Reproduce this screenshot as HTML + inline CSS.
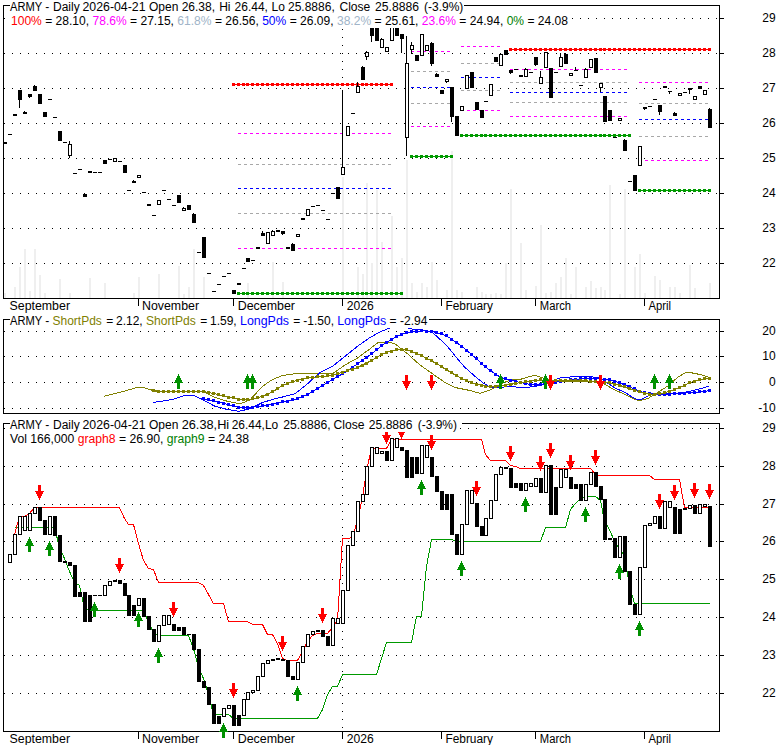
<!DOCTYPE html><html><head><meta charset="utf-8"><title>chart</title><style>html,body{margin:0;padding:0;background:#fff}svg{display:block}</style></head><body><svg width="780" height="745" viewBox="0 0 780 745" shape-rendering="crispEdges" font-family="Liberation Sans, sans-serif" font-size="12px">
<rect x="0" y="0" width="780" height="745" fill="#fff"/>
<line x1="12" y1="263.5" x2="720" y2="263.5" stroke="#000" stroke-width="1" stroke-dasharray="1 7"/>
<line x1="12" y1="228.5" x2="720" y2="228.5" stroke="#000" stroke-width="1" stroke-dasharray="1 7"/>
<line x1="12" y1="193.5" x2="720" y2="193.5" stroke="#000" stroke-width="1" stroke-dasharray="1 7"/>
<line x1="12" y1="158.5" x2="720" y2="158.5" stroke="#000" stroke-width="1" stroke-dasharray="1 7"/>
<line x1="12" y1="123.5" x2="720" y2="123.5" stroke="#000" stroke-width="1" stroke-dasharray="1 7"/>
<line x1="12" y1="88.5" x2="720" y2="88.5" stroke="#000" stroke-width="1" stroke-dasharray="1 7"/>
<line x1="12" y1="53.5" x2="720" y2="53.5" stroke="#000" stroke-width="1" stroke-dasharray="1 7"/>
<line x1="12" y1="18.5" x2="720" y2="18.5" stroke="#000" stroke-width="1" stroke-dasharray="1 7"/>
<line x1="342.5" y1="29" x2="342.5" y2="298" stroke="#000" stroke-width="1" stroke-dasharray="1 7"/>
<rect x="4" y="293" width="2" height="5" fill="#efefef"/>
<rect x="14" y="287" width="2" height="11" fill="#efefef"/>
<rect x="19" y="267" width="2" height="31" fill="#efefef"/>
<rect x="24" y="249" width="2" height="49" fill="#efefef"/>
<rect x="29" y="291" width="2" height="7" fill="#efefef"/>
<rect x="34" y="249" width="2" height="49" fill="#efefef"/>
<rect x="39" y="275" width="2" height="23" fill="#efefef"/>
<rect x="44" y="293" width="2" height="5" fill="#efefef"/>
<rect x="59" y="279" width="2" height="19" fill="#efefef"/>
<rect x="69" y="293" width="2" height="5" fill="#efefef"/>
<rect x="89" y="278" width="2" height="20" fill="#efefef"/>
<rect x="104" y="283" width="2" height="15" fill="#efefef"/>
<rect x="133" y="293" width="2" height="5" fill="#efefef"/>
<rect x="138" y="277" width="2" height="21" fill="#efefef"/>
<rect x="158" y="274" width="2" height="24" fill="#efefef"/>
<rect x="178" y="266" width="2" height="32" fill="#efefef"/>
<rect x="183" y="294" width="2" height="4" fill="#efefef"/>
<rect x="188" y="287" width="2" height="11" fill="#efefef"/>
<rect x="193" y="249" width="2" height="49" fill="#efefef"/>
<rect x="203" y="277" width="2" height="21" fill="#efefef"/>
<rect x="247" y="283" width="2" height="15" fill="#efefef"/>
<rect x="272" y="262" width="2" height="36" fill="#efefef"/>
<rect x="282" y="282" width="2" height="16" fill="#efefef"/>
<rect x="342" y="177" width="2" height="121" fill="#efefef"/>
<rect x="357" y="267" width="2" height="31" fill="#efefef"/>
<rect x="362" y="274" width="2" height="24" fill="#efefef"/>
<rect x="366" y="183" width="2" height="115" fill="#efefef"/>
<rect x="371" y="263" width="2" height="35" fill="#efefef"/>
<rect x="376" y="190" width="2" height="108" fill="#efefef"/>
<rect x="381" y="242" width="2" height="56" fill="#efefef"/>
<rect x="391" y="216" width="2" height="82" fill="#efefef"/>
<rect x="396" y="267" width="2" height="31" fill="#efefef"/>
<rect x="401" y="258" width="2" height="40" fill="#efefef"/>
<rect x="406" y="160" width="2" height="138" fill="#efefef"/>
<rect x="411" y="283" width="2" height="15" fill="#efefef"/>
<rect x="416" y="292" width="2" height="6" fill="#efefef"/>
<rect x="421" y="283" width="2" height="15" fill="#efefef"/>
<rect x="426" y="287" width="2" height="11" fill="#efefef"/>
<rect x="431" y="262" width="2" height="36" fill="#efefef"/>
<rect x="436" y="280" width="2" height="18" fill="#efefef"/>
<rect x="446" y="290" width="2" height="8" fill="#efefef"/>
<rect x="451" y="151" width="2" height="147" fill="#efefef"/>
<rect x="456" y="290" width="2" height="8" fill="#efefef"/>
<rect x="461" y="292" width="2" height="6" fill="#efefef"/>
<rect x="476" y="287" width="2" height="11" fill="#efefef"/>
<rect x="481" y="292" width="2" height="6" fill="#efefef"/>
<rect x="485" y="294" width="2" height="4" fill="#efefef"/>
<rect x="490" y="294" width="2" height="4" fill="#efefef"/>
<rect x="495" y="293" width="2" height="5" fill="#efefef"/>
<rect x="500" y="294" width="2" height="4" fill="#efefef"/>
<rect x="505" y="263" width="2" height="35" fill="#efefef"/>
<rect x="510" y="189" width="2" height="109" fill="#efefef"/>
<rect x="520" y="243" width="2" height="55" fill="#efefef"/>
<rect x="525" y="290" width="2" height="8" fill="#efefef"/>
<rect x="535" y="286" width="2" height="12" fill="#efefef"/>
<rect x="540" y="225" width="2" height="73" fill="#efefef"/>
<rect x="545" y="293" width="2" height="5" fill="#efefef"/>
<rect x="550" y="292" width="2" height="6" fill="#efefef"/>
<rect x="555" y="283" width="2" height="15" fill="#efefef"/>
<rect x="560" y="277" width="2" height="21" fill="#efefef"/>
<rect x="565" y="258" width="2" height="40" fill="#efefef"/>
<rect x="570" y="294" width="2" height="4" fill="#efefef"/>
<rect x="575" y="267" width="2" height="31" fill="#efefef"/>
<rect x="585" y="287" width="2" height="11" fill="#efefef"/>
<rect x="590" y="281" width="2" height="17" fill="#efefef"/>
<rect x="595" y="288" width="2" height="10" fill="#efefef"/>
<rect x="600" y="287" width="2" height="11" fill="#efefef"/>
<rect x="604" y="290" width="2" height="8" fill="#efefef"/>
<rect x="609" y="185" width="2" height="113" fill="#efefef"/>
<rect x="619" y="294" width="2" height="4" fill="#efefef"/>
<rect x="624" y="189" width="2" height="109" fill="#efefef"/>
<rect x="634" y="267" width="2" height="31" fill="#efefef"/>
<rect x="639" y="254" width="2" height="44" fill="#efefef"/>
<rect x="644" y="293" width="2" height="5" fill="#efefef"/>
<rect x="654" y="276" width="2" height="22" fill="#efefef"/>
<rect x="659" y="280" width="2" height="18" fill="#efefef"/>
<rect x="669" y="287" width="2" height="11" fill="#efefef"/>
<rect x="674" y="287" width="2" height="11" fill="#efefef"/>
<rect x="679" y="293" width="2" height="5" fill="#efefef"/>
<rect x="689" y="265" width="2" height="33" fill="#efefef"/>
<rect x="694" y="288" width="2" height="10" fill="#efefef"/>
<rect x="709" y="283" width="2" height="15" fill="#efefef"/>
<rect x="232" y="84" width="161" height="1" fill="#ff0000"/>
<rect x="232" y="83" width="3" height="3" fill="#ff0000"/>
<rect x="237" y="83" width="3" height="3" fill="#ff0000"/>
<rect x="242" y="83" width="3" height="3" fill="#ff0000"/>
<rect x="246" y="83" width="3" height="3" fill="#ff0000"/>
<rect x="251" y="83" width="3" height="3" fill="#ff0000"/>
<rect x="256" y="83" width="3" height="3" fill="#ff0000"/>
<rect x="261" y="83" width="3" height="3" fill="#ff0000"/>
<rect x="266" y="83" width="3" height="3" fill="#ff0000"/>
<rect x="271" y="83" width="3" height="3" fill="#ff0000"/>
<rect x="276" y="83" width="3" height="3" fill="#ff0000"/>
<rect x="281" y="83" width="3" height="3" fill="#ff0000"/>
<rect x="286" y="83" width="3" height="3" fill="#ff0000"/>
<rect x="291" y="83" width="3" height="3" fill="#ff0000"/>
<rect x="296" y="83" width="3" height="3" fill="#ff0000"/>
<rect x="301" y="83" width="3" height="3" fill="#ff0000"/>
<rect x="306" y="83" width="3" height="3" fill="#ff0000"/>
<rect x="311" y="83" width="3" height="3" fill="#ff0000"/>
<rect x="316" y="83" width="3" height="3" fill="#ff0000"/>
<rect x="321" y="83" width="3" height="3" fill="#ff0000"/>
<rect x="326" y="83" width="3" height="3" fill="#ff0000"/>
<rect x="331" y="83" width="3" height="3" fill="#ff0000"/>
<rect x="336" y="83" width="3" height="3" fill="#ff0000"/>
<rect x="341" y="83" width="3" height="3" fill="#ff0000"/>
<rect x="346" y="83" width="3" height="3" fill="#ff0000"/>
<rect x="351" y="83" width="3" height="3" fill="#ff0000"/>
<rect x="356" y="83" width="3" height="3" fill="#ff0000"/>
<rect x="361" y="83" width="3" height="3" fill="#ff0000"/>
<rect x="365" y="83" width="3" height="3" fill="#ff0000"/>
<rect x="370" y="83" width="3" height="3" fill="#ff0000"/>
<rect x="375" y="83" width="3" height="3" fill="#ff0000"/>
<rect x="380" y="83" width="3" height="3" fill="#ff0000"/>
<rect x="385" y="83" width="3" height="3" fill="#ff0000"/>
<rect x="390" y="83" width="3" height="3" fill="#ff0000"/>
<line x1="238" y1="133.5" x2="392" y2="133.5" stroke="#ff00ff" stroke-width="1" stroke-dasharray="3 3"/>
<line x1="238" y1="164.5" x2="392" y2="164.5" stroke="#a8a8a8" stroke-width="1" stroke-dasharray="3 3"/>
<line x1="238" y1="188.5" x2="392" y2="188.5" stroke="#0000ff" stroke-width="1" stroke-dasharray="3 3"/>
<line x1="238" y1="213.5" x2="392" y2="213.5" stroke="#a8a8a8" stroke-width="1" stroke-dasharray="3 3"/>
<line x1="238" y1="248.5" x2="392" y2="248.5" stroke="#ff00ff" stroke-width="1" stroke-dasharray="3 3"/>
<rect x="237" y="293" width="166" height="1" fill="#009a00"/>
<rect x="237" y="292" width="3" height="3" fill="#009a00"/>
<rect x="242" y="292" width="3" height="3" fill="#009a00"/>
<rect x="246" y="292" width="3" height="3" fill="#009a00"/>
<rect x="251" y="292" width="3" height="3" fill="#009a00"/>
<rect x="256" y="292" width="3" height="3" fill="#009a00"/>
<rect x="261" y="292" width="3" height="3" fill="#009a00"/>
<rect x="266" y="292" width="3" height="3" fill="#009a00"/>
<rect x="271" y="292" width="3" height="3" fill="#009a00"/>
<rect x="276" y="292" width="3" height="3" fill="#009a00"/>
<rect x="281" y="292" width="3" height="3" fill="#009a00"/>
<rect x="286" y="292" width="3" height="3" fill="#009a00"/>
<rect x="291" y="292" width="3" height="3" fill="#009a00"/>
<rect x="296" y="292" width="3" height="3" fill="#009a00"/>
<rect x="301" y="292" width="3" height="3" fill="#009a00"/>
<rect x="306" y="292" width="3" height="3" fill="#009a00"/>
<rect x="311" y="292" width="3" height="3" fill="#009a00"/>
<rect x="316" y="292" width="3" height="3" fill="#009a00"/>
<rect x="321" y="292" width="3" height="3" fill="#009a00"/>
<rect x="326" y="292" width="3" height="3" fill="#009a00"/>
<rect x="331" y="292" width="3" height="3" fill="#009a00"/>
<rect x="336" y="292" width="3" height="3" fill="#009a00"/>
<rect x="341" y="292" width="3" height="3" fill="#009a00"/>
<rect x="346" y="292" width="3" height="3" fill="#009a00"/>
<rect x="351" y="292" width="3" height="3" fill="#009a00"/>
<rect x="356" y="292" width="3" height="3" fill="#009a00"/>
<rect x="361" y="292" width="3" height="3" fill="#009a00"/>
<rect x="365" y="292" width="3" height="3" fill="#009a00"/>
<rect x="370" y="292" width="3" height="3" fill="#009a00"/>
<rect x="375" y="292" width="3" height="3" fill="#009a00"/>
<rect x="380" y="292" width="3" height="3" fill="#009a00"/>
<rect x="385" y="292" width="3" height="3" fill="#009a00"/>
<rect x="390" y="292" width="3" height="3" fill="#009a00"/>
<rect x="395" y="292" width="3" height="3" fill="#009a00"/>
<rect x="400" y="292" width="3" height="3" fill="#009a00"/>
<line x1="411" y1="51.5" x2="452" y2="51.5" stroke="#ff00ff" stroke-width="1" stroke-dasharray="3 3"/>
<line x1="411" y1="71.5" x2="452" y2="71.5" stroke="#a8a8a8" stroke-width="1" stroke-dasharray="3 3"/>
<line x1="411" y1="87.5" x2="452" y2="87.5" stroke="#0000ff" stroke-width="1" stroke-dasharray="3 3"/>
<line x1="411" y1="103.5" x2="452" y2="103.5" stroke="#a8a8a8" stroke-width="1" stroke-dasharray="3 3"/>
<line x1="411" y1="126.5" x2="452" y2="126.5" stroke="#ff00ff" stroke-width="1" stroke-dasharray="3 3"/>
<rect x="410" y="156" width="43" height="1" fill="#009a00"/>
<rect x="410" y="155" width="3" height="3" fill="#009a00"/>
<rect x="415" y="155" width="3" height="3" fill="#009a00"/>
<rect x="420" y="155" width="3" height="3" fill="#009a00"/>
<rect x="425" y="155" width="3" height="3" fill="#009a00"/>
<rect x="430" y="155" width="3" height="3" fill="#009a00"/>
<rect x="435" y="155" width="3" height="3" fill="#009a00"/>
<rect x="440" y="155" width="3" height="3" fill="#009a00"/>
<rect x="445" y="155" width="3" height="3" fill="#009a00"/>
<rect x="450" y="155" width="3" height="3" fill="#009a00"/>
<line x1="461" y1="46.5" x2="501" y2="46.5" stroke="#ff00ff" stroke-width="1" stroke-dasharray="3 3"/>
<line x1="461" y1="63.5" x2="501" y2="63.5" stroke="#a8a8a8" stroke-width="1" stroke-dasharray="3 3"/>
<line x1="461" y1="77.5" x2="501" y2="77.5" stroke="#0000ff" stroke-width="1" stroke-dasharray="3 3"/>
<line x1="461" y1="90.5" x2="501" y2="90.5" stroke="#a8a8a8" stroke-width="1" stroke-dasharray="3 3"/>
<line x1="461" y1="110.5" x2="501" y2="110.5" stroke="#ff00ff" stroke-width="1" stroke-dasharray="3 3"/>
<line x1="510" y1="69.5" x2="628" y2="69.5" stroke="#ff00ff" stroke-width="1" stroke-dasharray="3 3"/>
<line x1="510" y1="82.5" x2="628" y2="82.5" stroke="#a8a8a8" stroke-width="1" stroke-dasharray="3 3"/>
<line x1="510" y1="92.5" x2="628" y2="92.5" stroke="#0000ff" stroke-width="1" stroke-dasharray="3 3"/>
<line x1="510" y1="102.5" x2="628" y2="102.5" stroke="#a8a8a8" stroke-width="1" stroke-dasharray="3 3"/>
<line x1="510" y1="116.5" x2="628" y2="116.5" stroke="#ff00ff" stroke-width="1" stroke-dasharray="3 3"/>
<rect x="460" y="135" width="171" height="1" fill="#009a00"/>
<rect x="460" y="134" width="3" height="3" fill="#009a00"/>
<rect x="465" y="134" width="3" height="3" fill="#009a00"/>
<rect x="470" y="134" width="3" height="3" fill="#009a00"/>
<rect x="475" y="134" width="3" height="3" fill="#009a00"/>
<rect x="480" y="134" width="3" height="3" fill="#009a00"/>
<rect x="484" y="134" width="3" height="3" fill="#009a00"/>
<rect x="489" y="134" width="3" height="3" fill="#009a00"/>
<rect x="494" y="134" width="3" height="3" fill="#009a00"/>
<rect x="499" y="134" width="3" height="3" fill="#009a00"/>
<rect x="504" y="134" width="3" height="3" fill="#009a00"/>
<rect x="509" y="134" width="3" height="3" fill="#009a00"/>
<rect x="514" y="134" width="3" height="3" fill="#009a00"/>
<rect x="519" y="134" width="3" height="3" fill="#009a00"/>
<rect x="524" y="134" width="3" height="3" fill="#009a00"/>
<rect x="529" y="134" width="3" height="3" fill="#009a00"/>
<rect x="534" y="134" width="3" height="3" fill="#009a00"/>
<rect x="539" y="134" width="3" height="3" fill="#009a00"/>
<rect x="544" y="134" width="3" height="3" fill="#009a00"/>
<rect x="549" y="134" width="3" height="3" fill="#009a00"/>
<rect x="554" y="134" width="3" height="3" fill="#009a00"/>
<rect x="559" y="134" width="3" height="3" fill="#009a00"/>
<rect x="564" y="134" width="3" height="3" fill="#009a00"/>
<rect x="569" y="134" width="3" height="3" fill="#009a00"/>
<rect x="574" y="134" width="3" height="3" fill="#009a00"/>
<rect x="579" y="134" width="3" height="3" fill="#009a00"/>
<rect x="584" y="134" width="3" height="3" fill="#009a00"/>
<rect x="589" y="134" width="3" height="3" fill="#009a00"/>
<rect x="594" y="134" width="3" height="3" fill="#009a00"/>
<rect x="599" y="134" width="3" height="3" fill="#009a00"/>
<rect x="603" y="134" width="3" height="3" fill="#009a00"/>
<rect x="608" y="134" width="3" height="3" fill="#009a00"/>
<rect x="613" y="134" width="3" height="3" fill="#009a00"/>
<rect x="618" y="134" width="3" height="3" fill="#009a00"/>
<rect x="623" y="134" width="3" height="3" fill="#009a00"/>
<rect x="628" y="134" width="3" height="3" fill="#009a00"/>
<line x1="639" y1="82.5" x2="709" y2="82.5" stroke="#ff00ff" stroke-width="1" stroke-dasharray="3 3"/>
<line x1="639" y1="103.5" x2="709" y2="103.5" stroke="#a8a8a8" stroke-width="1" stroke-dasharray="3 3"/>
<line x1="639" y1="119.5" x2="709" y2="119.5" stroke="#0000ff" stroke-width="1" stroke-dasharray="3 3"/>
<line x1="639" y1="136.5" x2="709" y2="136.5" stroke="#a8a8a8" stroke-width="1" stroke-dasharray="3 3"/>
<line x1="645" y1="160.5" x2="709" y2="160.5" stroke="#ff00ff" stroke-width="1" stroke-dasharray="3 3"/>
<rect x="638" y="190" width="73" height="1" fill="#009a00"/>
<rect x="638" y="189" width="3" height="3" fill="#009a00"/>
<rect x="643" y="189" width="3" height="3" fill="#009a00"/>
<rect x="648" y="189" width="3" height="3" fill="#009a00"/>
<rect x="653" y="189" width="3" height="3" fill="#009a00"/>
<rect x="658" y="189" width="3" height="3" fill="#009a00"/>
<rect x="663" y="189" width="3" height="3" fill="#009a00"/>
<rect x="668" y="189" width="3" height="3" fill="#009a00"/>
<rect x="673" y="189" width="3" height="3" fill="#009a00"/>
<rect x="678" y="189" width="3" height="3" fill="#009a00"/>
<rect x="683" y="189" width="3" height="3" fill="#009a00"/>
<rect x="688" y="189" width="3" height="3" fill="#009a00"/>
<rect x="693" y="189" width="3" height="3" fill="#009a00"/>
<rect x="698" y="189" width="3" height="3" fill="#009a00"/>
<rect x="703" y="189" width="3" height="3" fill="#009a00"/>
<rect x="708" y="189" width="3" height="3" fill="#009a00"/>
<rect x="509" y="49" width="202" height="1" fill="#ff0000"/>
<rect x="509" y="48" width="3" height="3" fill="#ff0000"/>
<rect x="514" y="48" width="3" height="3" fill="#ff0000"/>
<rect x="519" y="48" width="3" height="3" fill="#ff0000"/>
<rect x="524" y="48" width="3" height="3" fill="#ff0000"/>
<rect x="529" y="48" width="3" height="3" fill="#ff0000"/>
<rect x="534" y="48" width="3" height="3" fill="#ff0000"/>
<rect x="539" y="48" width="3" height="3" fill="#ff0000"/>
<rect x="544" y="48" width="3" height="3" fill="#ff0000"/>
<rect x="549" y="48" width="3" height="3" fill="#ff0000"/>
<rect x="554" y="48" width="3" height="3" fill="#ff0000"/>
<rect x="559" y="48" width="3" height="3" fill="#ff0000"/>
<rect x="564" y="48" width="3" height="3" fill="#ff0000"/>
<rect x="569" y="48" width="3" height="3" fill="#ff0000"/>
<rect x="574" y="48" width="3" height="3" fill="#ff0000"/>
<rect x="579" y="48" width="3" height="3" fill="#ff0000"/>
<rect x="584" y="48" width="3" height="3" fill="#ff0000"/>
<rect x="589" y="48" width="3" height="3" fill="#ff0000"/>
<rect x="594" y="48" width="3" height="3" fill="#ff0000"/>
<rect x="599" y="48" width="3" height="3" fill="#ff0000"/>
<rect x="603" y="48" width="3" height="3" fill="#ff0000"/>
<rect x="608" y="48" width="3" height="3" fill="#ff0000"/>
<rect x="613" y="48" width="3" height="3" fill="#ff0000"/>
<rect x="618" y="48" width="3" height="3" fill="#ff0000"/>
<rect x="623" y="48" width="3" height="3" fill="#ff0000"/>
<rect x="628" y="48" width="3" height="3" fill="#ff0000"/>
<rect x="633" y="48" width="3" height="3" fill="#ff0000"/>
<rect x="638" y="48" width="3" height="3" fill="#ff0000"/>
<rect x="643" y="48" width="3" height="3" fill="#ff0000"/>
<rect x="648" y="48" width="3" height="3" fill="#ff0000"/>
<rect x="653" y="48" width="3" height="3" fill="#ff0000"/>
<rect x="658" y="48" width="3" height="3" fill="#ff0000"/>
<rect x="663" y="48" width="3" height="3" fill="#ff0000"/>
<rect x="668" y="48" width="3" height="3" fill="#ff0000"/>
<rect x="673" y="48" width="3" height="3" fill="#ff0000"/>
<rect x="678" y="48" width="3" height="3" fill="#ff0000"/>
<rect x="683" y="48" width="3" height="3" fill="#ff0000"/>
<rect x="688" y="48" width="3" height="3" fill="#ff0000"/>
<rect x="693" y="48" width="3" height="3" fill="#ff0000"/>
<rect x="698" y="48" width="3" height="3" fill="#ff0000"/>
<rect x="703" y="48" width="3" height="3" fill="#ff0000"/>
<rect x="708" y="48" width="3" height="3" fill="#ff0000"/>
<rect x="3" y="142" width="4" height="2" fill="#000"/>
<rect x="8" y="134" width="4" height="1" fill="#000"/>
<rect x="13" y="114" width="4" height="2" fill="#000"/>
<rect x="19" y="100" width="1" height="8" fill="#000"/>
<rect x="18" y="90" width="4" height="10" fill="#000"/>
<rect x="24" y="111" width="1" height="1" fill="#000"/>
<rect x="23" y="112" width="4" height="2" fill="#000"/>
<rect x="29" y="97" width="1" height="1" fill="#000"/>
<rect x="28" y="94" width="4" height="3" fill="#000"/>
<rect x="34" y="85" width="1" height="1" fill="#000"/>
<rect x="33" y="86" width="4" height="5" fill="#000"/>
<rect x="38" y="94" width="4" height="10" fill="#000"/>
<rect x="43" y="112" width="4" height="5" fill="#000"/>
<rect x="48" y="99" width="4" height="1" fill="#000"/>
<rect x="53" y="117" width="4" height="1" fill="#000"/>
<rect x="58" y="131" width="4" height="10" fill="#000"/>
<rect x="63" y="142" width="4" height="1" fill="#000"/>
<rect x="69" y="141" width="1" height="3" fill="#000"/>
<rect x="69" y="156" width="1" height="2" fill="#000"/>
<rect x="68.5" y="144.5" width="3" height="11" fill="#fff" stroke="#000" stroke-width="1"/>
<rect x="73" y="173" width="4" height="1" fill="#000"/>
<rect x="78" y="169" width="4" height="1" fill="#000"/>
<rect x="84" y="193" width="1" height="1" fill="#000"/>
<rect x="83" y="194" width="4" height="3" fill="#000"/>
<rect x="88" y="171" width="4" height="2" fill="#000"/>
<rect x="93" y="172" width="4" height="1" fill="#000"/>
<rect x="98" y="172" width="4" height="1" fill="#000"/>
<rect x="103" y="160" width="4" height="4" fill="#000"/>
<rect x="108" y="159" width="4" height="1" fill="#000"/>
<rect x="113.5" y="158.5" width="3" height="3" fill="#fff" stroke="#000" stroke-width="1"/>
<rect x="118" y="161" width="4" height="1" fill="#000"/>
<rect x="123" y="165" width="4" height="8" fill="#000"/>
<rect x="127" y="190" width="4" height="1" fill="#000"/>
<rect x="133" y="180" width="1" height="1" fill="#000"/>
<rect x="132" y="181" width="4" height="2" fill="#000"/>
<rect x="137.5" y="175.5" width="3" height="2" fill="#fff" stroke="#000" stroke-width="1"/>
<rect x="142" y="192" width="4" height="1" fill="#000"/>
<rect x="147" y="204" width="4" height="2" fill="#000"/>
<rect x="152" y="215" width="4" height="1" fill="#000"/>
<rect x="157.5" y="200.5" width="3" height="4" fill="#fff" stroke="#000" stroke-width="1"/>
<rect x="162" y="190" width="4" height="1" fill="#000"/>
<rect x="167" y="199" width="4" height="1" fill="#000"/>
<rect x="172" y="205" width="4" height="1" fill="#000"/>
<rect x="177" y="195" width="4" height="8" fill="#000"/>
<rect x="183" y="207" width="1" height="1" fill="#000"/>
<rect x="182.5" y="208.5" width="3" height="2" fill="#fff" stroke="#000" stroke-width="1"/>
<rect x="187" y="205" width="4" height="5" fill="#000"/>
<rect x="193" y="213" width="1" height="1" fill="#000"/>
<rect x="192" y="214" width="4" height="9" fill="#000"/>
<rect x="197" y="252" width="4" height="1" fill="#000"/>
<rect x="202" y="237" width="4" height="21" fill="#000"/>
<rect x="207" y="273" width="4" height="1" fill="#000"/>
<rect x="212" y="291" width="4" height="1" fill="#000"/>
<rect x="217" y="284" width="4" height="1" fill="#000"/>
<rect x="222" y="276" width="4" height="1" fill="#000"/>
<rect x="227" y="273" width="4" height="1" fill="#000"/>
<rect x="232" y="290" width="4" height="4" fill="#000"/>
<rect x="237" y="283" width="4" height="2" fill="#000"/>
<rect x="242" y="268" width="4" height="1" fill="#000"/>
<rect x="246" y="258" width="4" height="4" fill="#000"/>
<rect x="251" y="260" width="4" height="1" fill="#000"/>
<rect x="256" y="247" width="4" height="2" fill="#000"/>
<rect x="262" y="231" width="1" height="2" fill="#000"/>
<rect x="261" y="233" width="4" height="3" fill="#000"/>
<rect x="266.5" y="232.5" width="3" height="11" fill="#fff" stroke="#000" stroke-width="1"/>
<rect x="272" y="230" width="1" height="1" fill="#000"/>
<rect x="271.5" y="231.5" width="3" height="4" fill="#fff" stroke="#000" stroke-width="1"/>
<rect x="276" y="230" width="4" height="2" fill="#000"/>
<rect x="282" y="234" width="1" height="1" fill="#000"/>
<rect x="281" y="231" width="4" height="3" fill="#000"/>
<rect x="286" y="247" width="4" height="2" fill="#000"/>
<rect x="292" y="243" width="1" height="1" fill="#000"/>
<rect x="291" y="244" width="4" height="7" fill="#000"/>
<rect x="296.5" y="234.5" width="3" height="2" fill="#fff" stroke="#000" stroke-width="1"/>
<rect x="301" y="218" width="4" height="2" fill="#000"/>
<rect x="306.5" y="209.5" width="3" height="6" fill="#fff" stroke="#000" stroke-width="1"/>
<rect x="311" y="206" width="4" height="1" fill="#000"/>
<rect x="316" y="205" width="4" height="1" fill="#000"/>
<rect x="321" y="210" width="4" height="1" fill="#000"/>
<rect x="326" y="219" width="4" height="1" fill="#000"/>
<rect x="331" y="193" width="4" height="1" fill="#000"/>
<rect x="336" y="187" width="4" height="12" fill="#000"/>
<rect x="342" y="90" width="1" height="77" fill="#000"/>
<rect x="341.5" y="167.5" width="3" height="7" fill="#fff" stroke="#000" stroke-width="1"/>
<rect x="346.5" y="126.5" width="3" height="9" fill="#fff" stroke="#000" stroke-width="1"/>
<rect x="351" y="113" width="4" height="1" fill="#000"/>
<rect x="357" y="82" width="1" height="4" fill="#000"/>
<rect x="356.5" y="86.5" width="3" height="6" fill="#fff" stroke="#000" stroke-width="1"/>
<rect x="362" y="66" width="1" height="1" fill="#000"/>
<rect x="361" y="67" width="4" height="13" fill="#000"/>
<rect x="366" y="51" width="1" height="1" fill="#000"/>
<rect x="366" y="57" width="1" height="3" fill="#000"/>
<rect x="365.5" y="52.5" width="3" height="4" fill="#fff" stroke="#000" stroke-width="1"/>
<rect x="371" y="36" width="1" height="6" fill="#000"/>
<rect x="370" y="24" width="4" height="12" fill="#000"/>
<rect x="375" y="24" width="4" height="17" fill="#000"/>
<rect x="381" y="38" width="1" height="1" fill="#000"/>
<rect x="380.5" y="39.5" width="3" height="8" fill="#fff" stroke="#000" stroke-width="1"/>
<rect x="385.5" y="47.5" width="3" height="4" fill="#fff" stroke="#000" stroke-width="1"/>
<rect x="390.5" y="24.5" width="3" height="16" fill="#fff" stroke="#000" stroke-width="1"/>
<rect x="395" y="24" width="4" height="12" fill="#000"/>
<rect x="401" y="39" width="1" height="14" fill="#000"/>
<rect x="400" y="34" width="4" height="5" fill="#000"/>
<rect x="406" y="36" width="1" height="27" fill="#000"/>
<rect x="406" y="138" width="1" height="18" fill="#000"/>
<rect x="405.5" y="63.5" width="3" height="74" fill="#fff" stroke="#000" stroke-width="1"/>
<rect x="411" y="42" width="1" height="3" fill="#000"/>
<rect x="411" y="50" width="1" height="4" fill="#000"/>
<rect x="410.5" y="45.5" width="3" height="4" fill="#fff" stroke="#000" stroke-width="1"/>
<rect x="415" y="55" width="4" height="6" fill="#000"/>
<rect x="420.5" y="34.5" width="3" height="21" fill="#fff" stroke="#000" stroke-width="1"/>
<rect x="425.5" y="45.5" width="3" height="5" fill="#fff" stroke="#000" stroke-width="1"/>
<rect x="431" y="42" width="1" height="1" fill="#000"/>
<rect x="431" y="64" width="1" height="2" fill="#000"/>
<rect x="430" y="43" width="4" height="21" fill="#000"/>
<rect x="436" y="73" width="1" height="1" fill="#000"/>
<rect x="435" y="74" width="4" height="3" fill="#000"/>
<rect x="440" y="90" width="4" height="4" fill="#000"/>
<rect x="446" y="82" width="1" height="1" fill="#000"/>
<rect x="445.5" y="79.5" width="3" height="2" fill="#fff" stroke="#000" stroke-width="1"/>
<rect x="451" y="117" width="1" height="5" fill="#000"/>
<rect x="450" y="87" width="4" height="30" fill="#000"/>
<rect x="455" y="116" width="4" height="20" fill="#000"/>
<rect x="460.5" y="106.5" width="3" height="4" fill="#fff" stroke="#000" stroke-width="1"/>
<rect x="465.5" y="75.5" width="3" height="13" fill="#fff" stroke="#000" stroke-width="1"/>
<rect x="470" y="72" width="4" height="16" fill="#000"/>
<rect x="475" y="102" width="4" height="8" fill="#000"/>
<rect x="480" y="110" width="4" height="8" fill="#000"/>
<rect x="484" y="101" width="4" height="1" fill="#000"/>
<rect x="489.5" y="84.5" width="3" height="11" fill="#fff" stroke="#000" stroke-width="1"/>
<rect x="494" y="57" width="4" height="5" fill="#000"/>
<rect x="500" y="53" width="1" height="1" fill="#000"/>
<rect x="499.5" y="54.5" width="3" height="11" fill="#fff" stroke="#000" stroke-width="1"/>
<rect x="504" y="50" width="4" height="5" fill="#000"/>
<rect x="510" y="73" width="1" height="1" fill="#000"/>
<rect x="509" y="70" width="4" height="3" fill="#000"/>
<rect x="514" y="69" width="4" height="1" fill="#000"/>
<rect x="519" y="75" width="4" height="2" fill="#000"/>
<rect x="525" y="68" width="1" height="1" fill="#000"/>
<rect x="524.5" y="69.5" width="3" height="7" fill="#fff" stroke="#000" stroke-width="1"/>
<rect x="529" y="72" width="4" height="1" fill="#000"/>
<rect x="535" y="65" width="1" height="1" fill="#000"/>
<rect x="534" y="57" width="4" height="8" fill="#000"/>
<rect x="540" y="71" width="1" height="6" fill="#000"/>
<rect x="539.5" y="77.5" width="3" height="6" fill="#fff" stroke="#000" stroke-width="1"/>
<rect x="544.5" y="52.5" width="3" height="15" fill="#fff" stroke="#000" stroke-width="1"/>
<rect x="549" y="68" width="4" height="30" fill="#000"/>
<rect x="554" y="72" width="4" height="1" fill="#000"/>
<rect x="560" y="53" width="1" height="4" fill="#000"/>
<rect x="559.5" y="57.5" width="3" height="9" fill="#fff" stroke="#000" stroke-width="1"/>
<rect x="565" y="53" width="1" height="1" fill="#000"/>
<rect x="564" y="54" width="4" height="10" fill="#000"/>
<rect x="569.5" y="73.5" width="3" height="2" fill="#fff" stroke="#000" stroke-width="1"/>
<rect x="575" y="67" width="1" height="3" fill="#000"/>
<rect x="574" y="70" width="4" height="1" fill="#000"/>
<rect x="579" y="85" width="4" height="1" fill="#000"/>
<rect x="585" y="68" width="1" height="1" fill="#000"/>
<rect x="584.5" y="69.5" width="3" height="8" fill="#fff" stroke="#000" stroke-width="1"/>
<rect x="589.5" y="59.5" width="3" height="8" fill="#fff" stroke="#000" stroke-width="1"/>
<rect x="594" y="58" width="4" height="15" fill="#000"/>
<rect x="600" y="88" width="1" height="4" fill="#000"/>
<rect x="599.5" y="83.5" width="3" height="4" fill="#fff" stroke="#000" stroke-width="1"/>
<rect x="603" y="96" width="4" height="26" fill="#000"/>
<rect x="608" y="110" width="4" height="11" fill="#000"/>
<rect x="613" y="137" width="4" height="1" fill="#000"/>
<rect x="618.5" y="118.5" width="3" height="2" fill="#fff" stroke="#000" stroke-width="1"/>
<rect x="624" y="139" width="1" height="1" fill="#000"/>
<rect x="623" y="140" width="4" height="11" fill="#000"/>
<rect x="628" y="181" width="4" height="1" fill="#000"/>
<rect x="633" y="175" width="4" height="16" fill="#000"/>
<rect x="638.5" y="146.5" width="3" height="19" fill="#fff" stroke="#000" stroke-width="1"/>
<rect x="644" y="109" width="1" height="1" fill="#000"/>
<rect x="643" y="107" width="4" height="2" fill="#000"/>
<rect x="648" y="106" width="4" height="1" fill="#000"/>
<rect x="653" y="99" width="4" height="1" fill="#000"/>
<rect x="659" y="112" width="1" height="3" fill="#000"/>
<rect x="658" y="105" width="4" height="7" fill="#000"/>
<rect x="663" y="86" width="4" height="2" fill="#000"/>
<rect x="669" y="91" width="1" height="3" fill="#000"/>
<rect x="668" y="91" width="4" height="1" fill="#000"/>
<rect x="674" y="112" width="1" height="1" fill="#000"/>
<rect x="673" y="113" width="4" height="3" fill="#000"/>
<rect x="678.5" y="93.5" width="3" height="2" fill="#fff" stroke="#000" stroke-width="1"/>
<rect x="683" y="92" width="4" height="1" fill="#000"/>
<rect x="689" y="88" width="1" height="6" fill="#000"/>
<rect x="688" y="88" width="4" height="2" fill="#000"/>
<rect x="693.5" y="96.5" width="3" height="3" fill="#fff" stroke="#000" stroke-width="1"/>
<rect x="698" y="86" width="4" height="3" fill="#000"/>
<rect x="703.5" y="90.5" width="3" height="4" fill="#fff" stroke="#000" stroke-width="1"/>
<rect x="709" y="108" width="1" height="1" fill="#000"/>
<rect x="708" y="109" width="4" height="19" fill="#000"/>
<rect x="3" y="5" width="1" height="294" fill="#000"/>
<rect x="3" y="298" width="717" height="1" fill="#000"/>
<rect x="719" y="5" width="1" height="294" fill="#000"/>
<rect x="3" y="5" width="7" height="1" fill="#000"/>
<rect x="464" y="5" width="256" height="1" fill="#000"/>
<rect x="720" y="263" width="4" height="1" fill="#000"/>
<rect x="4" y="263" width="1" height="1" fill="#000"/>
<text x="775.6" y="266.6" text-anchor="end" shape-rendering="auto">22</text>
<rect x="720" y="228" width="4" height="1" fill="#000"/>
<rect x="4" y="228" width="1" height="1" fill="#000"/>
<text x="775.6" y="231.6" text-anchor="end" shape-rendering="auto">23</text>
<rect x="720" y="193" width="4" height="1" fill="#000"/>
<rect x="4" y="193" width="1" height="1" fill="#000"/>
<text x="775.6" y="196.6" text-anchor="end" shape-rendering="auto">24</text>
<rect x="720" y="158" width="4" height="1" fill="#000"/>
<rect x="4" y="158" width="1" height="1" fill="#000"/>
<text x="775.6" y="161.6" text-anchor="end" shape-rendering="auto">25</text>
<rect x="720" y="123" width="4" height="1" fill="#000"/>
<rect x="4" y="123" width="1" height="1" fill="#000"/>
<text x="775.6" y="126.6" text-anchor="end" shape-rendering="auto">26</text>
<rect x="720" y="88" width="4" height="1" fill="#000"/>
<rect x="4" y="88" width="1" height="1" fill="#000"/>
<text x="775.6" y="91.6" text-anchor="end" shape-rendering="auto">27</text>
<rect x="720" y="53" width="4" height="1" fill="#000"/>
<rect x="4" y="53" width="1" height="1" fill="#000"/>
<text x="775.6" y="56.6" text-anchor="end" shape-rendering="auto">28</text>
<rect x="720" y="18" width="4" height="1" fill="#000"/>
<rect x="4" y="18" width="1" height="1" fill="#000"/>
<text x="775.6" y="21.6" text-anchor="end" shape-rendering="auto">29</text>
<text x="9.5" y="309.7" textLength="60.5" lengthAdjust="spacingAndGlyphs" shape-rendering="auto">September</text>
<rect x="138" y="298" width="1" height="8" fill="#000"/>
<text x="142" y="309.7" textLength="57" lengthAdjust="spacingAndGlyphs" shape-rendering="auto">November</text>
<rect x="233" y="298" width="1" height="8" fill="#000"/>
<text x="237.7" y="309.7" textLength="57.3" lengthAdjust="spacingAndGlyphs" shape-rendering="auto">December</text>
<rect x="342" y="298" width="1" height="8" fill="#000"/>
<text x="346.7" y="309.7" textLength="27" lengthAdjust="spacingAndGlyphs" shape-rendering="auto">2026</text>
<rect x="441" y="298" width="1" height="8" fill="#000"/>
<text x="445.4" y="309.7" textLength="47.6" lengthAdjust="spacingAndGlyphs" shape-rendering="auto">February</text>
<rect x="535" y="298" width="1" height="8" fill="#000"/>
<text x="539.8" y="309.7" textLength="31.2" lengthAdjust="spacingAndGlyphs" shape-rendering="auto">March</text>
<rect x="644" y="298" width="1" height="8" fill="#000"/>
<text x="648.5" y="309.7" textLength="22.5" lengthAdjust="spacingAndGlyphs" shape-rendering="auto">April</text>
<rect x="10" y="0" width="453" height="15" fill="#fff"/>
<rect x="10" y="15" width="559" height="13" fill="#fff"/>
<text x="10" y="10.9" fill="#000" textLength="32.2" lengthAdjust="spacingAndGlyphs" shape-rendering="auto" xml:space="preserve">ARMY</text>
<text x="45.3" y="10.9" fill="#000" shape-rendering="auto" xml:space="preserve">-</text>
<text x="53" y="10.9" fill="#000" shape-rendering="auto" xml:space="preserve">Daily</text>
<text x="82.5" y="10.9" fill="#000" textLength="63" lengthAdjust="spacingAndGlyphs" shape-rendering="auto" xml:space="preserve">2026-04-21</text>
<text x="149" y="10.9" fill="#000" shape-rendering="auto" xml:space="preserve">Open</text>
<text x="181.7" y="10.9" fill="#000" shape-rendering="auto" xml:space="preserve">26.38,</text>
<text x="219.2" y="10.9" fill="#000" shape-rendering="auto" xml:space="preserve">Hi</text>
<text x="234.6" y="10.9" fill="#000" shape-rendering="auto" xml:space="preserve">26.44,</text>
<text x="271.5" y="10.9" fill="#000" shape-rendering="auto" xml:space="preserve">Lo</text>
<text x="288" y="10.9" fill="#000" shape-rendering="auto" xml:space="preserve">25.8886,</text>
<text x="339.5" y="10.9" fill="#000" textLength="30.8" lengthAdjust="spacingAndGlyphs" shape-rendering="auto" xml:space="preserve">Close</text>
<text x="375" y="10.9" fill="#000" textLength="43.9" lengthAdjust="spacingAndGlyphs" shape-rendering="auto" xml:space="preserve">25.8886</text>
<text x="424" y="10.9" fill="#000" shape-rendering="auto" xml:space="preserve">(-3.9%)</text>
<text x="11" y="24.9" textLength="557" lengthAdjust="spacingAndGlyphs" shape-rendering="auto" xml:space="preserve"><tspan fill="#ff0000">100%</tspan> = 28.10, <tspan fill="#ff00ff">78.6%</tspan> = 27.15, <tspan fill="#a0b4c8">61.8%</tspan> = 26.56, <tspan fill="#0000ff">50%</tspan> = 26.09, <tspan fill="#a0b4c8">38.2%</tspan> = 25.61, <tspan fill="#ff00ff">23.6%</tspan> = 24.94, <tspan fill="#008000">0%</tspan> = 24.08</text>
<line x1="12" y1="331.5" x2="720" y2="331.5" stroke="#000" stroke-width="1" stroke-dasharray="1 7"/>
<line x1="12" y1="356.5" x2="720" y2="356.5" stroke="#000" stroke-width="1" stroke-dasharray="1 7"/>
<line x1="12" y1="382.5" x2="720" y2="382.5" stroke="#000" stroke-width="1" stroke-dasharray="1 7"/>
<line x1="12" y1="408.5" x2="720" y2="408.5" stroke="#000" stroke-width="1" stroke-dasharray="1 7"/>
<polyline fill="none" stroke="#808000" stroke-width="1" points="104.25,396.3 115,393.5 125,391 138.75,387 145,388 152.5,390.3 160,391.5 203.75,391.5 215,397.5 227.5,401.3 240,403.8 250,400 262.5,386.3 272.5,379.5 282.5,375.5 295,373.8 307.5,373.3 320,373.3 332.5,373.8 345,365 357.5,358 370,348.8 377.5,343 387.5,341.8 395,343.8 407.5,353.8 420,365 432.5,373.8 445,382.5 455,387.5 465,389.5 470,390.5 480,393.3 490,390 500,384.5 510,380 520,379.5 530,376.3 536,375.5 545,378.8 555,380.5 565,381.3 580,381.8 600,382 605,384.5 615,390 625,394.5 635,399.5 640,400.5 647.5,398.75 657.5,392.5 667.5,386.3 677.5,377.5 685,373 690,372.5 700,374.5 710,377.5"/>
<polyline fill="none" stroke="#0000ff" stroke-width="1" points="153,402.5 172.5,399.5 185,395.5 193.8,395.5 202.5,399.5 215,406.3 227.5,409.5 238.8,411.3 250,408.8 262.5,402.5 275,398.8 282.5,397 295,393.8 307.5,383.8 320,372.5 332.5,366.3 345,356.3 357.5,346.3 370,337.5 380,332 387.5,328.8 395,326 402,326 410,328.8 420,330 432.5,332.5 445,343.8 450,349.5 457.5,358.8 465,367.5 475,376.3 482.5,382.5 490,387 500,387.5 510,386.3 520,387.5 530,387 540,385.5 550,381.3 560,378 570,377 580,376.3 590,376.5 600,378 605,381.3 615,388 625,392.5 635,398.8 640,400 650,395 660,393.8 670,393.8 680,393 690,391.3 700,388.8 708.75,386.3"/>
<polyline fill="none" stroke="#0000ff" stroke-width="1" points="203.5,398.77 208.5,399.87 213.5,400.97 218.5,402.196 223.5,403.476 228.5,404.74 233.5,405.94 238.5,407.14 243.5,407.5 247.5,407.5 252.5,407.16 257.5,406.48 262.5,405.8 267.5,405 272.5,404.2 277.5,403.2 282.5,402 287.5,401 292.5,400 297.5,398.5 302.5,396.5 307.5,394.5 312.5,391.5 317.5,388.5 322.5,385.5 327.5,382.5 332.5,379.5 337.5,376.7 342.5,373.9 347.5,370.76 352.5,367.28 357.5,363.8 362.5,360.28 366.5,357.464 371.5,353.8 376.5,349.8 381.5,345.8 386.5,342.44 391.5,339.24 396.5,336.46 401.5,334.66 406.5,332.86 411.5,331.956 416.5,331.276 421.5,330.86 426.5,331.06 431.5,331.26 436.5,332.484 441.5,333.964 446.5,335.9 451.5,339.056 456.5,342.576 461.5,346.096 466.5,350.224 471.5,354.504 476.5,358.856 481.5,363.376 485.5,366.992 490.5,370.768 495.5,374.048 500.5,377.15 505.5,378.65 510.5,380.125 515.5,381.375 520.5,382.6 525.5,383.6 530.5,384.5 535.5,384.5 540.5,384.425 545.5,383.675 550.5,382.915 555.5,382.065 560.5,381.235 565.5,380.585 570.5,379.95 575.5,379.45 580.5,378.95 585.5,378.45 590.5,378.04 595.5,378.44 600.5,378.86 604.5,379.34 609.5,379.94 614.5,381.35 619.5,382.85 624.5,384.8 629.5,386.8 634.5,388.935 639.5,391.085 644.5,392.83 649.5,393.585 654.5,394.235 659.5,394.3 664.5,394.3 669.5,394.075 674.5,393.825 679.5,393.44 684.5,393.04 689.5,392.775 694.5,392.525 699.5,391.96 704.5,391.36 709.5,390.58"/>
<rect x="202" y="397" width="3" height="3" fill="#0000ff"/>
<rect x="207" y="398" width="3" height="3" fill="#0000ff"/>
<rect x="212" y="399" width="3" height="3" fill="#0000ff"/>
<rect x="217" y="401" width="3" height="3" fill="#0000ff"/>
<rect x="222" y="402" width="3" height="3" fill="#0000ff"/>
<rect x="227" y="403" width="3" height="3" fill="#0000ff"/>
<rect x="232" y="404" width="3" height="3" fill="#0000ff"/>
<rect x="237" y="406" width="3" height="3" fill="#0000ff"/>
<rect x="242" y="406" width="3" height="3" fill="#0000ff"/>
<rect x="246" y="406" width="3" height="3" fill="#0000ff"/>
<rect x="251" y="406" width="3" height="3" fill="#0000ff"/>
<rect x="256" y="405" width="3" height="3" fill="#0000ff"/>
<rect x="261" y="404" width="3" height="3" fill="#0000ff"/>
<rect x="266" y="404" width="3" height="3" fill="#0000ff"/>
<rect x="271" y="403" width="3" height="3" fill="#0000ff"/>
<rect x="276" y="402" width="3" height="3" fill="#0000ff"/>
<rect x="281" y="400" width="3" height="3" fill="#0000ff"/>
<rect x="286" y="400" width="3" height="3" fill="#0000ff"/>
<rect x="291" y="398" width="3" height="3" fill="#0000ff"/>
<rect x="296" y="397" width="3" height="3" fill="#0000ff"/>
<rect x="301" y="395" width="3" height="3" fill="#0000ff"/>
<rect x="306" y="393" width="3" height="3" fill="#0000ff"/>
<rect x="311" y="390" width="3" height="3" fill="#0000ff"/>
<rect x="316" y="387" width="3" height="3" fill="#0000ff"/>
<rect x="321" y="384" width="3" height="3" fill="#0000ff"/>
<rect x="326" y="381" width="3" height="3" fill="#0000ff"/>
<rect x="331" y="378" width="3" height="3" fill="#0000ff"/>
<rect x="336" y="375" width="3" height="3" fill="#0000ff"/>
<rect x="341" y="372" width="3" height="3" fill="#0000ff"/>
<rect x="346" y="369" width="3" height="3" fill="#0000ff"/>
<rect x="351" y="366" width="3" height="3" fill="#0000ff"/>
<rect x="356" y="362" width="3" height="3" fill="#0000ff"/>
<rect x="361" y="359" width="3" height="3" fill="#0000ff"/>
<rect x="365" y="356" width="3" height="3" fill="#0000ff"/>
<rect x="370" y="352" width="3" height="3" fill="#0000ff"/>
<rect x="375" y="348" width="3" height="3" fill="#0000ff"/>
<rect x="380" y="344" width="3" height="3" fill="#0000ff"/>
<rect x="385" y="341" width="3" height="3" fill="#0000ff"/>
<rect x="390" y="338" width="3" height="3" fill="#0000ff"/>
<rect x="395" y="335" width="3" height="3" fill="#0000ff"/>
<rect x="400" y="333" width="3" height="3" fill="#0000ff"/>
<rect x="405" y="331" width="3" height="3" fill="#0000ff"/>
<rect x="410" y="330" width="3" height="3" fill="#0000ff"/>
<rect x="415" y="330" width="3" height="3" fill="#0000ff"/>
<rect x="420" y="329" width="3" height="3" fill="#0000ff"/>
<rect x="425" y="330" width="3" height="3" fill="#0000ff"/>
<rect x="430" y="330" width="3" height="3" fill="#0000ff"/>
<rect x="435" y="331" width="3" height="3" fill="#0000ff"/>
<rect x="440" y="332" width="3" height="3" fill="#0000ff"/>
<rect x="445" y="334" width="3" height="3" fill="#0000ff"/>
<rect x="450" y="338" width="3" height="3" fill="#0000ff"/>
<rect x="455" y="341" width="3" height="3" fill="#0000ff"/>
<rect x="460" y="345" width="3" height="3" fill="#0000ff"/>
<rect x="465" y="349" width="3" height="3" fill="#0000ff"/>
<rect x="470" y="353" width="3" height="3" fill="#0000ff"/>
<rect x="475" y="357" width="3" height="3" fill="#0000ff"/>
<rect x="480" y="362" width="3" height="3" fill="#0000ff"/>
<rect x="484" y="365" width="3" height="3" fill="#0000ff"/>
<rect x="489" y="369" width="3" height="3" fill="#0000ff"/>
<rect x="494" y="373" width="3" height="3" fill="#0000ff"/>
<rect x="499" y="376" width="3" height="3" fill="#0000ff"/>
<rect x="504" y="377" width="3" height="3" fill="#0000ff"/>
<rect x="509" y="379" width="3" height="3" fill="#0000ff"/>
<rect x="514" y="380" width="3" height="3" fill="#0000ff"/>
<rect x="519" y="381" width="3" height="3" fill="#0000ff"/>
<rect x="524" y="382" width="3" height="3" fill="#0000ff"/>
<rect x="529" y="383" width="3" height="3" fill="#0000ff"/>
<rect x="534" y="383" width="3" height="3" fill="#0000ff"/>
<rect x="539" y="383" width="3" height="3" fill="#0000ff"/>
<rect x="544" y="382" width="3" height="3" fill="#0000ff"/>
<rect x="549" y="381" width="3" height="3" fill="#0000ff"/>
<rect x="554" y="381" width="3" height="3" fill="#0000ff"/>
<rect x="559" y="380" width="3" height="3" fill="#0000ff"/>
<rect x="564" y="379" width="3" height="3" fill="#0000ff"/>
<rect x="569" y="378" width="3" height="3" fill="#0000ff"/>
<rect x="574" y="378" width="3" height="3" fill="#0000ff"/>
<rect x="579" y="377" width="3" height="3" fill="#0000ff"/>
<rect x="584" y="377" width="3" height="3" fill="#0000ff"/>
<rect x="589" y="377" width="3" height="3" fill="#0000ff"/>
<rect x="594" y="377" width="3" height="3" fill="#0000ff"/>
<rect x="599" y="377" width="3" height="3" fill="#0000ff"/>
<rect x="603" y="378" width="3" height="3" fill="#0000ff"/>
<rect x="608" y="378" width="3" height="3" fill="#0000ff"/>
<rect x="613" y="380" width="3" height="3" fill="#0000ff"/>
<rect x="618" y="381" width="3" height="3" fill="#0000ff"/>
<rect x="623" y="383" width="3" height="3" fill="#0000ff"/>
<rect x="628" y="385" width="3" height="3" fill="#0000ff"/>
<rect x="633" y="387" width="3" height="3" fill="#0000ff"/>
<rect x="638" y="390" width="3" height="3" fill="#0000ff"/>
<rect x="643" y="391" width="3" height="3" fill="#0000ff"/>
<rect x="648" y="392" width="3" height="3" fill="#0000ff"/>
<rect x="653" y="393" width="3" height="3" fill="#0000ff"/>
<rect x="658" y="393" width="3" height="3" fill="#0000ff"/>
<rect x="663" y="393" width="3" height="3" fill="#0000ff"/>
<rect x="668" y="393" width="3" height="3" fill="#0000ff"/>
<rect x="673" y="392" width="3" height="3" fill="#0000ff"/>
<rect x="678" y="392" width="3" height="3" fill="#0000ff"/>
<rect x="683" y="392" width="3" height="3" fill="#0000ff"/>
<rect x="688" y="391" width="3" height="3" fill="#0000ff"/>
<rect x="693" y="391" width="3" height="3" fill="#0000ff"/>
<rect x="698" y="390" width="3" height="3" fill="#0000ff"/>
<rect x="703" y="390" width="3" height="3" fill="#0000ff"/>
<rect x="708" y="389" width="3" height="3" fill="#0000ff"/>
<polyline fill="none" stroke="#808000" stroke-width="1" points="153.5,390.893 158.5,391.36 163.5,391.5 168.5,391.5 173.5,391.5 178.5,391.5 183.5,391.5 188.5,391.5 193.5,391.5 198.5,391.5 203.5,391.5 208.5,392.465 213.5,393.492 218.5,394.64 223.5,395.84 228.5,397 233.5,398 238.5,399 243.5,399.37 247.5,399.45 252.5,398.86 257.5,397.58 262.5,396.3 267.5,394.15 272.5,392 277.5,388.75 282.5,385.5 287.5,383.62 292.5,381.74 297.5,380.24 302.5,379.12 307.5,378 312.5,377.4 317.5,376.8 322.5,376.3 327.5,375.9 332.5,375.5 337.5,373.82 342.5,372.14 347.5,370.54 352.5,369.02 357.5,367.5 362.5,365.02 366.5,363.036 371.5,360.4 376.5,357.4 381.5,354.4 386.5,352.584 391.5,351.064 396.5,349.86 401.5,349.393 406.5,349.86 411.5,351.6 416.5,353.6 421.5,355.756 426.5,358.276 431.5,360.796 436.5,363.7 441.5,366.7 446.5,369.73 451.5,372.83 456.5,375.76 461.5,378.293 466.5,380.4 471.5,382.4 476.5,384.184 481.5,385.464 485.5,386.488 490.5,386.832 495.5,386.552 500.5,386.21 505.5,385.31 510.5,384.4 515.5,383.4 520.5,382.44 525.5,381.84 530.5,381.235 535.5,380.585 540.5,380 545.5,380 550.5,380.025 555.5,380.275 560.5,380.507 565.5,380.582 570.5,380.658 575.5,380.733 580.5,380.812 585.5,380.938 590.5,381.062 595.5,381.188 600.5,381.385 604.5,382.065 609.5,382.915 614.5,384.125 619.5,385.375 624.5,386.985 629.5,388.635 634.5,390.24 639.5,391.84 644.5,393.575 649.5,394.2 654.5,394.3 659.5,393.8 664.5,392.647 669.5,391.423 674.5,389.59 679.5,387.69 684.5,385.25 689.5,382.75 694.5,381.15 699.5,379.65 704.5,378.96 709.5,378.36"/>
<rect x="152" y="389" width="3" height="3" fill="#808000"/>
<rect x="157" y="390" width="3" height="3" fill="#808000"/>
<rect x="162" y="390" width="3" height="3" fill="#808000"/>
<rect x="167" y="390" width="3" height="3" fill="#808000"/>
<rect x="172" y="390" width="3" height="3" fill="#808000"/>
<rect x="177" y="390" width="3" height="3" fill="#808000"/>
<rect x="182" y="390" width="3" height="3" fill="#808000"/>
<rect x="187" y="390" width="3" height="3" fill="#808000"/>
<rect x="192" y="390" width="3" height="3" fill="#808000"/>
<rect x="197" y="390" width="3" height="3" fill="#808000"/>
<rect x="202" y="390" width="3" height="3" fill="#808000"/>
<rect x="207" y="391" width="3" height="3" fill="#808000"/>
<rect x="212" y="392" width="3" height="3" fill="#808000"/>
<rect x="217" y="393" width="3" height="3" fill="#808000"/>
<rect x="222" y="394" width="3" height="3" fill="#808000"/>
<rect x="227" y="396" width="3" height="3" fill="#808000"/>
<rect x="232" y="396" width="3" height="3" fill="#808000"/>
<rect x="237" y="398" width="3" height="3" fill="#808000"/>
<rect x="242" y="398" width="3" height="3" fill="#808000"/>
<rect x="246" y="398" width="3" height="3" fill="#808000"/>
<rect x="251" y="397" width="3" height="3" fill="#808000"/>
<rect x="256" y="396" width="3" height="3" fill="#808000"/>
<rect x="261" y="395" width="3" height="3" fill="#808000"/>
<rect x="266" y="393" width="3" height="3" fill="#808000"/>
<rect x="271" y="390" width="3" height="3" fill="#808000"/>
<rect x="276" y="387" width="3" height="3" fill="#808000"/>
<rect x="281" y="384" width="3" height="3" fill="#808000"/>
<rect x="286" y="382" width="3" height="3" fill="#808000"/>
<rect x="291" y="380" width="3" height="3" fill="#808000"/>
<rect x="296" y="379" width="3" height="3" fill="#808000"/>
<rect x="301" y="378" width="3" height="3" fill="#808000"/>
<rect x="306" y="376" width="3" height="3" fill="#808000"/>
<rect x="311" y="376" width="3" height="3" fill="#808000"/>
<rect x="316" y="375" width="3" height="3" fill="#808000"/>
<rect x="321" y="375" width="3" height="3" fill="#808000"/>
<rect x="326" y="374" width="3" height="3" fill="#808000"/>
<rect x="331" y="374" width="3" height="3" fill="#808000"/>
<rect x="336" y="372" width="3" height="3" fill="#808000"/>
<rect x="341" y="371" width="3" height="3" fill="#808000"/>
<rect x="346" y="369" width="3" height="3" fill="#808000"/>
<rect x="351" y="368" width="3" height="3" fill="#808000"/>
<rect x="356" y="366" width="3" height="3" fill="#808000"/>
<rect x="361" y="364" width="3" height="3" fill="#808000"/>
<rect x="365" y="362" width="3" height="3" fill="#808000"/>
<rect x="370" y="359" width="3" height="3" fill="#808000"/>
<rect x="375" y="356" width="3" height="3" fill="#808000"/>
<rect x="380" y="353" width="3" height="3" fill="#808000"/>
<rect x="385" y="351" width="3" height="3" fill="#808000"/>
<rect x="390" y="350" width="3" height="3" fill="#808000"/>
<rect x="395" y="348" width="3" height="3" fill="#808000"/>
<rect x="400" y="348" width="3" height="3" fill="#808000"/>
<rect x="405" y="348" width="3" height="3" fill="#808000"/>
<rect x="410" y="350" width="3" height="3" fill="#808000"/>
<rect x="415" y="352" width="3" height="3" fill="#808000"/>
<rect x="420" y="354" width="3" height="3" fill="#808000"/>
<rect x="425" y="357" width="3" height="3" fill="#808000"/>
<rect x="430" y="359" width="3" height="3" fill="#808000"/>
<rect x="435" y="362" width="3" height="3" fill="#808000"/>
<rect x="440" y="365" width="3" height="3" fill="#808000"/>
<rect x="445" y="368" width="3" height="3" fill="#808000"/>
<rect x="450" y="371" width="3" height="3" fill="#808000"/>
<rect x="455" y="374" width="3" height="3" fill="#808000"/>
<rect x="460" y="377" width="3" height="3" fill="#808000"/>
<rect x="465" y="379" width="3" height="3" fill="#808000"/>
<rect x="470" y="381" width="3" height="3" fill="#808000"/>
<rect x="475" y="383" width="3" height="3" fill="#808000"/>
<rect x="480" y="384" width="3" height="3" fill="#808000"/>
<rect x="484" y="385" width="3" height="3" fill="#808000"/>
<rect x="489" y="385" width="3" height="3" fill="#808000"/>
<rect x="494" y="385" width="3" height="3" fill="#808000"/>
<rect x="499" y="385" width="3" height="3" fill="#808000"/>
<rect x="504" y="384" width="3" height="3" fill="#808000"/>
<rect x="509" y="383" width="3" height="3" fill="#808000"/>
<rect x="514" y="382" width="3" height="3" fill="#808000"/>
<rect x="519" y="381" width="3" height="3" fill="#808000"/>
<rect x="524" y="380" width="3" height="3" fill="#808000"/>
<rect x="529" y="380" width="3" height="3" fill="#808000"/>
<rect x="534" y="379" width="3" height="3" fill="#808000"/>
<rect x="539" y="378" width="3" height="3" fill="#808000"/>
<rect x="544" y="378" width="3" height="3" fill="#808000"/>
<rect x="549" y="379" width="3" height="3" fill="#808000"/>
<rect x="554" y="379" width="3" height="3" fill="#808000"/>
<rect x="559" y="379" width="3" height="3" fill="#808000"/>
<rect x="564" y="379" width="3" height="3" fill="#808000"/>
<rect x="569" y="379" width="3" height="3" fill="#808000"/>
<rect x="574" y="379" width="3" height="3" fill="#808000"/>
<rect x="579" y="379" width="3" height="3" fill="#808000"/>
<rect x="584" y="379" width="3" height="3" fill="#808000"/>
<rect x="589" y="380" width="3" height="3" fill="#808000"/>
<rect x="594" y="380" width="3" height="3" fill="#808000"/>
<rect x="599" y="380" width="3" height="3" fill="#808000"/>
<rect x="603" y="381" width="3" height="3" fill="#808000"/>
<rect x="608" y="381" width="3" height="3" fill="#808000"/>
<rect x="613" y="383" width="3" height="3" fill="#808000"/>
<rect x="618" y="384" width="3" height="3" fill="#808000"/>
<rect x="623" y="385" width="3" height="3" fill="#808000"/>
<rect x="628" y="387" width="3" height="3" fill="#808000"/>
<rect x="633" y="389" width="3" height="3" fill="#808000"/>
<rect x="638" y="390" width="3" height="3" fill="#808000"/>
<rect x="643" y="392" width="3" height="3" fill="#808000"/>
<rect x="648" y="393" width="3" height="3" fill="#808000"/>
<rect x="653" y="393" width="3" height="3" fill="#808000"/>
<rect x="658" y="392" width="3" height="3" fill="#808000"/>
<rect x="663" y="391" width="3" height="3" fill="#808000"/>
<rect x="668" y="390" width="3" height="3" fill="#808000"/>
<rect x="673" y="388" width="3" height="3" fill="#808000"/>
<rect x="678" y="386" width="3" height="3" fill="#808000"/>
<rect x="683" y="384" width="3" height="3" fill="#808000"/>
<rect x="688" y="381" width="3" height="3" fill="#808000"/>
<rect x="693" y="380" width="3" height="3" fill="#808000"/>
<rect x="698" y="378" width="3" height="3" fill="#808000"/>
<rect x="703" y="377" width="3" height="3" fill="#808000"/>
<rect x="708" y="377" width="3" height="3" fill="#808000"/>
<polygon points="178.5,374 183,383 180,383 180,389 177,389 177,383 174,383" fill="#009000"/>
<polygon points="247.5,374 252,383 249,383 249,389 246,389 246,383 243,383" fill="#009000"/>
<polygon points="252.5,374 257,383 254,383 254,389 251,389 251,383 248,383" fill="#009000"/>
<polygon points="500.5,374 505,383 502,383 502,389 499,389 499,383 496,383" fill="#009000"/>
<polygon points="545.5,374 550,383 547,383 547,389 544,389 544,383 541,383" fill="#009000"/>
<polygon points="654.5,374 659,383 656,383 656,389 653,389 653,383 650,383" fill="#009000"/>
<polygon points="669.5,374 674,383 671,383 671,389 668,389 668,383 665,383" fill="#009000"/>
<polygon points="406.5,390 411,381 408,381 408,375 405,375 405,381 402,381" fill="#ff0000"/>
<polygon points="431.5,390 436,381 433,381 433,375 430,375 430,381 427,381" fill="#ff0000"/>
<polygon points="550.5,390 555,381 552,381 552,375 549,375 549,381 546,381" fill="#ff0000"/>
<polygon points="600.5,390 605,381 602,381 602,375 599,375 599,381 596,381" fill="#ff0000"/>
<rect x="3" y="319" width="1" height="95" fill="#000"/>
<rect x="3" y="413" width="717" height="1" fill="#000"/>
<rect x="719" y="319" width="1" height="95" fill="#000"/>
<rect x="3" y="319" width="7" height="1" fill="#000"/>
<rect x="429" y="319" width="291" height="1" fill="#000"/>
<rect x="720" y="331" width="4" height="1" fill="#000"/>
<rect x="4" y="331" width="1" height="1" fill="#000"/>
<text x="775.6" y="334.6" text-anchor="end" shape-rendering="auto">20</text>
<rect x="720" y="356" width="4" height="1" fill="#000"/>
<rect x="4" y="356" width="1" height="1" fill="#000"/>
<text x="775.6" y="359.6" text-anchor="end" shape-rendering="auto">10</text>
<rect x="720" y="382" width="4" height="1" fill="#000"/>
<rect x="4" y="382" width="1" height="1" fill="#000"/>
<text x="775.6" y="385.6" text-anchor="end" shape-rendering="auto">0</text>
<rect x="720" y="408" width="4" height="1" fill="#000"/>
<rect x="4" y="408" width="1" height="1" fill="#000"/>
<text x="775.6" y="411.6" text-anchor="end" shape-rendering="auto">-10</text>
<rect x="10" y="313" width="419" height="15" fill="#fff"/>
<text x="10" y="324.7" fill="#000" textLength="32.2" lengthAdjust="spacingAndGlyphs" shape-rendering="auto" xml:space="preserve">ARMY</text>
<text x="45.3" y="324.7" fill="#000" shape-rendering="auto" xml:space="preserve">-</text>
<text x="52.5" y="324.7" fill="#808000" textLength="49.3" lengthAdjust="spacingAndGlyphs" shape-rendering="auto" xml:space="preserve">ShortPds</text>
<text x="106.25" y="324.7" fill="#000" shape-rendering="auto" xml:space="preserve">=</text>
<text x="116" y="324.7" fill="#000" shape-rendering="auto" xml:space="preserve">2.12,</text>
<text x="146" y="324.7" fill="#808000" textLength="49.8" lengthAdjust="spacingAndGlyphs" shape-rendering="auto" xml:space="preserve">ShortPds</text>
<text x="200.3" y="324.7" fill="#000" shape-rendering="auto" xml:space="preserve">=</text>
<text x="210" y="324.7" fill="#000" shape-rendering="auto" xml:space="preserve">1.59,</text>
<text x="240" y="324.7" fill="#0000ff" textLength="49" lengthAdjust="spacingAndGlyphs" shape-rendering="auto" xml:space="preserve">LongPds</text>
<text x="293.3" y="324.7" fill="#000" shape-rendering="auto" xml:space="preserve">=</text>
<text x="303.3" y="324.7" fill="#000" shape-rendering="auto" xml:space="preserve">-1.50,</text>
<text x="337.2" y="324.7" fill="#0000ff" textLength="49" lengthAdjust="spacingAndGlyphs" shape-rendering="auto" xml:space="preserve">LongPds</text>
<text x="389.6" y="324.7" fill="#000" shape-rendering="auto" xml:space="preserve">=</text>
<text x="400" y="324.7" fill="#000" shape-rendering="auto" xml:space="preserve">-2.94</text>
<line x1="12" y1="428.5" x2="720" y2="428.5" stroke="#000" stroke-width="1" stroke-dasharray="1 7"/>
<line x1="12" y1="466.5" x2="720" y2="466.5" stroke="#000" stroke-width="1" stroke-dasharray="1 7"/>
<line x1="12" y1="504.5" x2="720" y2="504.5" stroke="#000" stroke-width="1" stroke-dasharray="1 7"/>
<line x1="12" y1="541.5" x2="720" y2="541.5" stroke="#000" stroke-width="1" stroke-dasharray="1 7"/>
<line x1="12" y1="579.5" x2="720" y2="579.5" stroke="#000" stroke-width="1" stroke-dasharray="1 7"/>
<line x1="12" y1="617.5" x2="720" y2="617.5" stroke="#000" stroke-width="1" stroke-dasharray="1 7"/>
<line x1="12" y1="655.5" x2="720" y2="655.5" stroke="#000" stroke-width="1" stroke-dasharray="1 7"/>
<line x1="12" y1="693.5" x2="720" y2="693.5" stroke="#000" stroke-width="1" stroke-dasharray="1 7"/>
<line x1="342.5" y1="439" x2="342.5" y2="731" stroke="#000" stroke-width="1" stroke-dasharray="1 7"/>
<polyline fill="none" stroke="#009a00" stroke-width="1" points="14.5,527.5 54.5,527.5 59.5,547.5 64.5,558.5 69.5,571.5 74.5,582.5 79.5,585.5 84.5,608.5 89.5,610.5 143.5,610.5 148.5,622.5 153.5,632.5 158.5,635.5 188.5,635.5 193.5,648.5 198.5,667.5 203.5,678.5 208.5,694.5 213.5,714.5 228.5,714.5 233.5,718.5 317.5,718.5 322.5,709.5 327.5,694.5 332.5,686.5 337.5,686.5 342.5,674.5 376.5,674.5 381.5,658.5 386.5,642.5 411.5,642.5 416.5,616.5 421.5,616.5 426.5,566.5 431.5,539.5 451.5,539.5 456.5,541.5 540.5,541.5 545.5,527.5 565.5,527.5 570.5,509.5 575.5,503.5 580.5,498.5 585.5,496.5 595.5,496.5 600.5,500.5 604.5,521.5 609.5,529.5 614.5,541.5 619.5,548.5 624.5,556.5 629.5,585.5 634.5,603.5 709.5,603.5"/>
<polyline fill="none" stroke="#ff0000" stroke-width="1" points="14.5,534.5 19.5,516.5 24.5,516.5 29.5,513.5 34.5,507.5 119.5,507.5 124.5,518.5 128.5,524.5 133.5,524.5 138.5,543.5 143.5,560.5 148.5,568.5 153.5,569.5 158.5,582.5 198.5,582.5 203.5,585.5 208.5,594.5 213.5,603.5 223.5,603.5 228.5,621.5 233.5,621.5 247.5,621.5 252.5,624.5 262.5,624.5 267.5,634.5 272.5,634.5 277.5,643.5 282.5,658.5 287.5,660.5 292.5,660.5 297.5,660.5 302.5,651.5 307.5,641.5 312.5,635.5 317.5,633.5 327.5,633.5 332.5,627.5 337.5,620.5 342.5,538.5 347.5,538.5 352.5,537.5 357.5,520.5 362.5,497.5 366.5,470.5 371.5,448.5 376.5,448.5 386.5,448.5 391.5,439.5 481.5,439.5 485.5,454.5 490.5,460.5 505.5,460.5 510.5,465.5 515.5,466.5 520.5,468.5 590.5,468.5 595.5,474.5 600.5,475.5 649.5,475.5 654.5,479.5 679.5,479.5 684.5,507.5 709.5,507.5"/>
<rect x="8.5" y="554.5" width="3" height="8" fill="#fff" stroke="#000" stroke-width="1"/>
<rect x="13.5" y="534.5" width="3" height="20" fill="#fff" stroke="#000" stroke-width="1"/>
<rect x="18.5" y="516.5" width="3" height="18" fill="#fff" stroke="#000" stroke-width="1"/>
<rect x="23.5" y="516.5" width="3" height="14" fill="#fff" stroke="#000" stroke-width="1"/>
<rect x="28.5" y="513.5" width="3" height="17" fill="#fff" stroke="#000" stroke-width="1"/>
<rect x="33.5" y="507.5" width="3" height="6" fill="#fff" stroke="#000" stroke-width="1"/>
<rect x="38" y="507" width="4" height="14" fill="#000"/>
<rect x="43" y="520" width="4" height="15" fill="#000"/>
<rect x="48.5" y="516.5" width="3" height="18" fill="#fff" stroke="#000" stroke-width="1"/>
<rect x="53" y="516" width="4" height="20" fill="#000"/>
<rect x="58" y="535" width="4" height="27" fill="#000"/>
<rect x="63" y="561" width="4" height="2" fill="#000"/>
<rect x="68" y="562" width="4" height="4" fill="#000"/>
<rect x="73" y="565" width="4" height="32" fill="#000"/>
<rect x="78" y="592" width="4" height="5" fill="#000"/>
<rect x="83" y="592" width="4" height="30" fill="#000"/>
<rect x="88" y="595" width="4" height="27" fill="#000"/>
<rect x="93" y="595" width="4" height="1" fill="#000"/>
<rect x="98" y="595" width="4" height="1" fill="#000"/>
<rect x="103.5" y="585.5" width="3" height="10" fill="#fff" stroke="#000" stroke-width="1"/>
<rect x="108.5" y="581.5" width="3" height="4" fill="#fff" stroke="#000" stroke-width="1"/>
<rect x="113" y="580" width="4" height="2" fill="#000"/>
<rect x="118" y="580" width="4" height="4" fill="#000"/>
<rect x="123" y="583" width="4" height="13" fill="#000"/>
<rect x="127" y="595" width="4" height="21" fill="#000"/>
<rect x="132" y="605" width="4" height="11" fill="#000"/>
<rect x="137.5" y="598.5" width="3" height="7" fill="#fff" stroke="#000" stroke-width="1"/>
<rect x="142" y="598" width="4" height="19" fill="#000"/>
<rect x="147" y="616" width="4" height="14" fill="#000"/>
<rect x="152" y="629" width="4" height="13" fill="#000"/>
<rect x="157.5" y="625.5" width="3" height="16" fill="#fff" stroke="#000" stroke-width="1"/>
<rect x="162.5" y="615.5" width="3" height="10" fill="#fff" stroke="#000" stroke-width="1"/>
<rect x="167.5" y="615.5" width="3" height="9" fill="#fff" stroke="#000" stroke-width="1"/>
<rect x="172" y="624" width="4" height="7" fill="#000"/>
<rect x="177" y="627" width="4" height="4" fill="#000"/>
<rect x="182" y="627" width="4" height="8" fill="#000"/>
<rect x="187" y="634" width="4" height="1" fill="#000"/>
<rect x="192" y="634" width="4" height="16" fill="#000"/>
<rect x="197" y="649" width="4" height="33" fill="#000"/>
<rect x="202" y="681" width="4" height="7" fill="#000"/>
<rect x="207" y="687" width="4" height="18" fill="#000"/>
<rect x="212" y="704" width="4" height="20" fill="#000"/>
<rect x="217" y="716" width="4" height="8" fill="#000"/>
<rect x="222.5" y="708.5" width="3" height="8" fill="#fff" stroke="#000" stroke-width="1"/>
<rect x="227.5" y="705.5" width="3" height="3" fill="#fff" stroke="#000" stroke-width="1"/>
<rect x="232" y="705" width="4" height="21" fill="#000"/>
<rect x="237" y="715" width="4" height="11" fill="#000"/>
<rect x="242.5" y="699.5" width="3" height="16" fill="#fff" stroke="#000" stroke-width="1"/>
<rect x="246.5" y="692.5" width="3" height="7" fill="#fff" stroke="#000" stroke-width="1"/>
<rect x="251.5" y="690.5" width="3" height="2" fill="#fff" stroke="#000" stroke-width="1"/>
<rect x="256.5" y="676.5" width="3" height="14" fill="#fff" stroke="#000" stroke-width="1"/>
<rect x="261.5" y="663.5" width="3" height="13" fill="#fff" stroke="#000" stroke-width="1"/>
<rect x="266.5" y="660.5" width="3" height="3" fill="#fff" stroke="#000" stroke-width="1"/>
<rect x="271" y="659" width="4" height="2" fill="#000"/>
<rect x="276" y="658" width="4" height="2" fill="#000"/>
<rect x="281" y="659" width="4" height="2" fill="#000"/>
<rect x="286" y="660" width="4" height="17" fill="#000"/>
<rect x="291" y="676" width="4" height="4" fill="#000"/>
<rect x="296.5" y="662.5" width="3" height="17" fill="#fff" stroke="#000" stroke-width="1"/>
<rect x="301.5" y="646.5" width="3" height="16" fill="#fff" stroke="#000" stroke-width="1"/>
<rect x="306.5" y="634.5" width="3" height="12" fill="#fff" stroke="#000" stroke-width="1"/>
<rect x="311.5" y="631.5" width="3" height="3" fill="#fff" stroke="#000" stroke-width="1"/>
<rect x="316" y="630" width="4" height="2" fill="#000"/>
<rect x="321" y="630" width="4" height="7" fill="#000"/>
<rect x="326" y="636" width="4" height="10" fill="#000"/>
<rect x="331.5" y="618.5" width="3" height="27" fill="#fff" stroke="#000" stroke-width="1"/>
<rect x="336.5" y="618.5" width="3" height="5" fill="#fff" stroke="#000" stroke-width="1"/>
<rect x="341.5" y="590.5" width="3" height="33" fill="#fff" stroke="#000" stroke-width="1"/>
<rect x="346.5" y="545.5" width="3" height="45" fill="#fff" stroke="#000" stroke-width="1"/>
<rect x="351.5" y="531.5" width="3" height="14" fill="#fff" stroke="#000" stroke-width="1"/>
<rect x="356.5" y="501.5" width="3" height="30" fill="#fff" stroke="#000" stroke-width="1"/>
<rect x="361.5" y="494.5" width="3" height="7" fill="#fff" stroke="#000" stroke-width="1"/>
<rect x="365.5" y="466.5" width="3" height="28" fill="#fff" stroke="#000" stroke-width="1"/>
<rect x="370.5" y="447.5" width="3" height="19" fill="#fff" stroke="#000" stroke-width="1"/>
<rect x="375.5" y="447.5" width="3" height="6" fill="#fff" stroke="#000" stroke-width="1"/>
<rect x="380.5" y="451.5" width="3" height="2" fill="#fff" stroke="#000" stroke-width="1"/>
<rect x="385" y="451" width="4" height="10" fill="#000"/>
<rect x="390.5" y="438.5" width="3" height="22" fill="#fff" stroke="#000" stroke-width="1"/>
<rect x="395.5" y="438.5" width="3" height="9" fill="#fff" stroke="#000" stroke-width="1"/>
<rect x="400" y="447" width="4" height="4" fill="#000"/>
<rect x="405" y="450" width="4" height="28" fill="#000"/>
<rect x="410" y="457" width="4" height="21" fill="#000"/>
<rect x="415" y="457" width="4" height="17" fill="#000"/>
<rect x="420.5" y="445.5" width="3" height="28" fill="#fff" stroke="#000" stroke-width="1"/>
<rect x="425.5" y="445.5" width="3" height="12" fill="#fff" stroke="#000" stroke-width="1"/>
<rect x="430" y="457" width="4" height="20" fill="#000"/>
<rect x="435" y="476" width="4" height="16" fill="#000"/>
<rect x="440" y="491" width="4" height="19" fill="#000"/>
<rect x="445" y="494" width="4" height="16" fill="#000"/>
<rect x="450" y="494" width="4" height="41" fill="#000"/>
<rect x="455" y="534" width="4" height="21" fill="#000"/>
<rect x="460.5" y="524.5" width="3" height="30" fill="#fff" stroke="#000" stroke-width="1"/>
<rect x="465.5" y="490.5" width="3" height="34" fill="#fff" stroke="#000" stroke-width="1"/>
<rect x="470.5" y="490.5" width="3" height="13" fill="#fff" stroke="#000" stroke-width="1"/>
<rect x="475" y="503" width="4" height="24" fill="#000"/>
<rect x="480" y="526" width="4" height="10" fill="#000"/>
<rect x="484.5" y="518.5" width="3" height="17" fill="#fff" stroke="#000" stroke-width="1"/>
<rect x="489.5" y="500.5" width="3" height="18" fill="#fff" stroke="#000" stroke-width="1"/>
<rect x="494.5" y="474.5" width="3" height="26" fill="#fff" stroke="#000" stroke-width="1"/>
<rect x="499.5" y="467.5" width="3" height="7" fill="#fff" stroke="#000" stroke-width="1"/>
<rect x="504" y="467" width="4" height="2" fill="#000"/>
<rect x="509" y="468" width="4" height="20" fill="#000"/>
<rect x="514" y="483" width="4" height="5" fill="#000"/>
<rect x="519" y="483" width="4" height="8" fill="#000"/>
<rect x="524.5" y="483.5" width="3" height="7" fill="#fff" stroke="#000" stroke-width="1"/>
<rect x="529.5" y="483.5" width="3" height="3" fill="#fff" stroke="#000" stroke-width="1"/>
<rect x="534.5" y="478.5" width="3" height="8" fill="#fff" stroke="#000" stroke-width="1"/>
<rect x="539" y="478" width="4" height="15" fill="#000"/>
<rect x="544.5" y="465.5" width="3" height="27" fill="#fff" stroke="#000" stroke-width="1"/>
<rect x="549" y="465" width="4" height="50" fill="#000"/>
<rect x="554" y="487" width="4" height="28" fill="#000"/>
<rect x="559.5" y="469.5" width="3" height="18" fill="#fff" stroke="#000" stroke-width="1"/>
<rect x="564.5" y="469.5" width="3" height="8" fill="#fff" stroke="#000" stroke-width="1"/>
<rect x="569" y="477" width="4" height="12" fill="#000"/>
<rect x="574" y="484" width="4" height="5" fill="#000"/>
<rect x="579" y="484" width="4" height="17" fill="#000"/>
<rect x="584.5" y="484.5" width="3" height="16" fill="#fff" stroke="#000" stroke-width="1"/>
<rect x="589.5" y="472.5" width="3" height="12" fill="#fff" stroke="#000" stroke-width="1"/>
<rect x="594" y="472" width="4" height="15" fill="#000"/>
<rect x="599" y="486" width="4" height="14" fill="#000"/>
<rect x="603" y="499" width="4" height="41" fill="#000"/>
<rect x="608" y="538" width="4" height="2" fill="#000"/>
<rect x="613" y="538" width="4" height="20" fill="#000"/>
<rect x="618.5" y="536.5" width="3" height="21" fill="#fff" stroke="#000" stroke-width="1"/>
<rect x="623" y="536" width="4" height="36" fill="#000"/>
<rect x="628" y="571" width="4" height="34" fill="#000"/>
<rect x="633" y="604" width="4" height="11" fill="#000"/>
<rect x="638.5" y="567.5" width="3" height="47" fill="#fff" stroke="#000" stroke-width="1"/>
<rect x="643.5" y="525.5" width="3" height="42" fill="#fff" stroke="#000" stroke-width="1"/>
<rect x="648.5" y="523.5" width="3" height="2" fill="#fff" stroke="#000" stroke-width="1"/>
<rect x="653.5" y="516.5" width="3" height="7" fill="#fff" stroke="#000" stroke-width="1"/>
<rect x="658" y="516" width="4" height="13" fill="#000"/>
<rect x="663.5" y="501.5" width="3" height="27" fill="#fff" stroke="#000" stroke-width="1"/>
<rect x="668.5" y="501.5" width="3" height="6" fill="#fff" stroke="#000" stroke-width="1"/>
<rect x="673" y="507" width="4" height="27" fill="#000"/>
<rect x="678" y="509" width="4" height="25" fill="#000"/>
<rect x="683" y="508" width="4" height="2" fill="#000"/>
<rect x="688.5" y="505.5" width="3" height="3" fill="#fff" stroke="#000" stroke-width="1"/>
<rect x="693" y="505" width="4" height="9" fill="#000"/>
<rect x="698.5" y="504.5" width="3" height="9" fill="#fff" stroke="#000" stroke-width="1"/>
<rect x="703.5" y="504.5" width="3" height="2" fill="#fff" stroke="#000" stroke-width="1"/>
<rect x="708" y="506" width="4" height="41" fill="#000"/>
<polygon points="39.5,500 44,491 41,491 41,485 38,485 38,491 35,491" fill="#ff0000"/>
<polygon points="119.5,573 124,564 121,564 121,558 118,558 118,564 115,564" fill="#ff0000"/>
<polygon points="173.5,617 178,608 175,608 175,602 172,602 172,608 169,608" fill="#ff0000"/>
<polygon points="233.5,698 238,689 235,689 235,683 232,683 232,689 229,689" fill="#ff0000"/>
<polygon points="282.5,651 287,642 284,642 284,636 281,636 281,642 278,642" fill="#ff0000"/>
<polygon points="322.5,623 327,614 324,614 324,608 321,608 321,614 318,614" fill="#ff0000"/>
<polygon points="386.5,444 391,435 388,435 388,429 385,429 385,435 382,435" fill="#ff0000"/>
<polygon points="401.5,439 406,430 403,430 403,424 400,424 400,430 397,430" fill="#ff0000"/>
<polygon points="431.5,450 436,441 433,441 433,435 430,435 430,441 427,441" fill="#ff0000"/>
<polygon points="476.5,496 481,487 478,487 478,481 475,481 475,487 472,487" fill="#ff0000"/>
<polygon points="510.5,461 515,452 512,452 512,446 509,446 509,452 506,452" fill="#ff0000"/>
<polygon points="540.5,471 545,462 542,462 542,456 539,456 539,462 536,462" fill="#ff0000"/>
<polygon points="550.5,458 555,449 552,449 552,443 549,443 549,449 546,449" fill="#ff0000"/>
<polygon points="570.5,470 575,461 572,461 572,455 569,455 569,461 566,461" fill="#ff0000"/>
<polygon points="595.5,465 600,456 597,456 597,450 594,450 594,456 591,456" fill="#ff0000"/>
<polygon points="659.5,509 664,500 661,500 661,494 658,494 658,500 655,500" fill="#ff0000"/>
<polygon points="674.5,500 679,491 676,491 676,485 673,485 673,491 670,491" fill="#ff0000"/>
<polygon points="694.5,498 699,489 696,489 696,483 693,483 693,489 690,489" fill="#ff0000"/>
<polygon points="709.5,499 714,490 711,490 711,484 708,484 708,490 705,490" fill="#ff0000"/>
<polygon points="29.5,537 34,546 31,546 31,552 28,552 28,546 25,546" fill="#009000"/>
<polygon points="49.5,541 54,550 51,550 51,556 48,556 48,550 45,550" fill="#009000"/>
<polygon points="94.5,602 99,611 96,611 96,617 93,617 93,611 90,611" fill="#009000"/>
<polygon points="138.5,612 143,621 140,621 140,627 137,627 137,621 134,621" fill="#009000"/>
<polygon points="158.5,648 163,657 160,657 160,663 157,663 157,657 154,657" fill="#009000"/>
<polygon points="223.5,723 228,732 225,732 225,738 222,738 222,732 219,732" fill="#009000"/>
<polygon points="297.5,686 302,695 299,695 299,701 296,701 296,695 293,695" fill="#009000"/>
<polygon points="421.5,480 426,489 423,489 423,495 420,495 420,489 417,489" fill="#009000"/>
<polygon points="461.5,561 466,570 463,570 463,576 460,576 460,570 457,570" fill="#009000"/>
<polygon points="525.5,497 530,506 527,506 527,512 524,512 524,506 521,506" fill="#009000"/>
<polygon points="585.5,507 590,516 587,516 587,522 584,522 584,516 581,516" fill="#009000"/>
<polygon points="619.5,564 624,573 621,573 621,579 618,579 618,573 615,573" fill="#009000"/>
<polygon points="639.5,621 644,630 641,630 641,636 638,636 638,630 635,630" fill="#009000"/>
<rect x="3" y="423" width="1" height="309" fill="#000"/>
<rect x="3" y="731" width="717" height="1" fill="#000"/>
<rect x="719" y="423" width="1" height="309" fill="#000"/>
<rect x="3" y="423" width="7" height="1" fill="#000"/>
<rect x="462" y="423" width="258" height="1" fill="#000"/>
<rect x="720" y="428" width="4" height="1" fill="#000"/>
<rect x="4" y="428" width="1" height="1" fill="#000"/>
<text x="775.6" y="431.6" text-anchor="end" shape-rendering="auto">29</text>
<rect x="720" y="466" width="4" height="1" fill="#000"/>
<rect x="4" y="466" width="1" height="1" fill="#000"/>
<text x="775.6" y="469.6" text-anchor="end" shape-rendering="auto">28</text>
<rect x="720" y="504" width="4" height="1" fill="#000"/>
<rect x="4" y="504" width="1" height="1" fill="#000"/>
<text x="775.6" y="507.6" text-anchor="end" shape-rendering="auto">27</text>
<rect x="720" y="541" width="4" height="1" fill="#000"/>
<rect x="4" y="541" width="1" height="1" fill="#000"/>
<text x="775.6" y="544.6" text-anchor="end" shape-rendering="auto">26</text>
<rect x="720" y="579" width="4" height="1" fill="#000"/>
<rect x="4" y="579" width="1" height="1" fill="#000"/>
<text x="775.6" y="582.6" text-anchor="end" shape-rendering="auto">25</text>
<rect x="720" y="617" width="4" height="1" fill="#000"/>
<rect x="4" y="617" width="1" height="1" fill="#000"/>
<text x="775.6" y="620.6" text-anchor="end" shape-rendering="auto">24</text>
<rect x="720" y="655" width="4" height="1" fill="#000"/>
<rect x="4" y="655" width="1" height="1" fill="#000"/>
<text x="775.6" y="658.6" text-anchor="end" shape-rendering="auto">23</text>
<rect x="720" y="693" width="4" height="1" fill="#000"/>
<rect x="4" y="693" width="1" height="1" fill="#000"/>
<text x="775.6" y="696.6" text-anchor="end" shape-rendering="auto">22</text>
<text x="9.5" y="742.7" textLength="60.5" lengthAdjust="spacingAndGlyphs" shape-rendering="auto">September</text>
<rect x="138" y="731" width="1" height="8" fill="#000"/>
<text x="142" y="742.7" textLength="57" lengthAdjust="spacingAndGlyphs" shape-rendering="auto">November</text>
<rect x="233" y="731" width="1" height="8" fill="#000"/>
<text x="237.7" y="742.7" textLength="57.3" lengthAdjust="spacingAndGlyphs" shape-rendering="auto">December</text>
<rect x="342" y="731" width="1" height="8" fill="#000"/>
<text x="346.7" y="742.7" textLength="27" lengthAdjust="spacingAndGlyphs" shape-rendering="auto">2026</text>
<rect x="441" y="731" width="1" height="8" fill="#000"/>
<text x="445.4" y="742.7" textLength="47.6" lengthAdjust="spacingAndGlyphs" shape-rendering="auto">February</text>
<rect x="535" y="731" width="1" height="8" fill="#000"/>
<text x="539.8" y="742.7" textLength="31.2" lengthAdjust="spacingAndGlyphs" shape-rendering="auto">March</text>
<rect x="644" y="731" width="1" height="8" fill="#000"/>
<text x="648.5" y="742.7" textLength="22.5" lengthAdjust="spacingAndGlyphs" shape-rendering="auto">April</text>
<polygon points="223.5,723 228,732 225,732 225,738 222,738 222,732 219,732" fill="#009000"/>
<rect x="10" y="417" width="448" height="15" fill="#fff"/>
<rect x="10" y="432" width="241" height="12" fill="#fff"/>
<text x="10" y="428.8" fill="#000" textLength="32.2" lengthAdjust="spacingAndGlyphs" shape-rendering="auto" xml:space="preserve">ARMY</text>
<text x="45.3" y="428.8" fill="#000" shape-rendering="auto" xml:space="preserve">-</text>
<text x="53" y="428.8" fill="#000" shape-rendering="auto" xml:space="preserve">Daily</text>
<text x="82.5" y="428.8" fill="#000" textLength="63" lengthAdjust="spacingAndGlyphs" shape-rendering="auto" xml:space="preserve">2026-04-21</text>
<text x="149" y="428.8" fill="#000" shape-rendering="auto" xml:space="preserve">Open</text>
<text x="181.7" y="428.8" fill="#000" textLength="47.5" lengthAdjust="spacingAndGlyphs" shape-rendering="auto" xml:space="preserve">26.38,Hi</text>
<text x="231.7" y="428.8" fill="#000" textLength="46.5" lengthAdjust="spacingAndGlyphs" shape-rendering="auto" xml:space="preserve">26.44,Lo</text>
<text x="283.3" y="428.8" fill="#000" textLength="47.3" lengthAdjust="spacingAndGlyphs" shape-rendering="auto" xml:space="preserve">25.8886,</text>
<text x="333.5" y="428.8" fill="#000" textLength="31" lengthAdjust="spacingAndGlyphs" shape-rendering="auto" xml:space="preserve">Close</text>
<text x="368.8" y="428.8" fill="#000" textLength="43.8" lengthAdjust="spacingAndGlyphs" shape-rendering="auto" xml:space="preserve">25.8886</text>
<text x="417.7" y="428.8" fill="#000" shape-rendering="auto" xml:space="preserve">(-3.9%)</text>
<text x="10" y="442.8" textLength="239" lengthAdjust="spacingAndGlyphs" shape-rendering="auto" xml:space="preserve">Vol 166,000 <tspan fill="#ff0000">graph8</tspan> = 26.90, <tspan fill="#008000">graph9</tspan> = 24.38</text>
</svg></body></html>
